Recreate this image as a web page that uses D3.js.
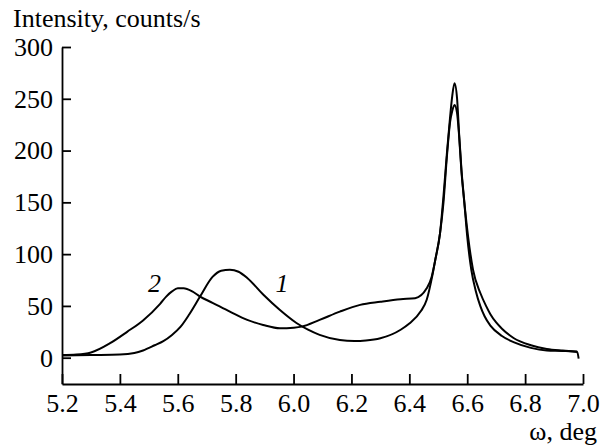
<!DOCTYPE html>
<html>
<head>
<meta charset="utf-8">
<script src="https://cdn.jsdelivr.net/npm/d3@7"></script>
<style>
  body { margin: 0; background: #fff; }
  .serif { font-family: "Liberation Serif", Times, serif; }
  .axis text { font-family: "Liberation Serif", Times, serif; font-size: 26px; fill: #000; }
  .axis path, .axis line { stroke: #000; stroke-width: 1.8; }
</style>
</head>
<body>
<div id="chart"></div>
<script>
// curve 1 (omega, intensity)
var omega1 = [5.2, 5.3, 5.4, 5.45, 5.48, 5.52, 5.55, 5.58, 5.61, 5.64, 5.677, 5.72, 5.75, 5.78, 5.81, 5.84, 5.895, 5.953, 6.01, 6.05, 6.09, 6.16, 6.21, 6.25, 6.30, 6.37, 6.40, 6.44, 6.46, 6.48, 6.49, 6.506, 6.518, 6.53, 6.541, 6.548, 6.556, 6.565, 6.572, 6.58, 6.59, 6.60, 6.614, 6.63, 6.645, 6.66, 6.68, 6.72, 6.76, 6.82, 6.875, 6.93, 6.98, 6.985];
var counts1 = [2, 2.5, 3, 4.5, 7, 12, 16, 22, 30, 42, 59, 78, 84, 85, 83, 77, 61, 46, 33.5, 27, 22, 17, 16, 16.5, 18.7, 27, 33, 45, 56, 80, 95, 120, 156, 198, 233, 252, 265, 250, 216, 182, 150, 117, 85, 64, 50, 40, 31, 21, 15, 9.5, 7, 6.5, 5.5, -1];

// curve 2
var omega2 = [5.2, 5.25, 5.3, 5.366, 5.425, 5.48, 5.539, 5.56, 5.58, 5.60, 5.62, 5.65, 5.677, 5.72, 5.78, 5.84, 5.895, 5.953, 6.0, 6.028, 6.09, 6.16, 6.23, 6.30, 6.37, 6.42, 6.46, 6.477, 6.49, 6.506, 6.518, 6.53, 6.541, 6.548, 6.556, 6.565, 6.572, 6.58, 6.59, 6.603, 6.62, 6.646, 6.665, 6.68, 6.70, 6.72, 6.76, 6.82, 6.875, 6.93, 6.98];
var counts2 = [2.5, 3, 5, 14, 25, 36, 52, 59, 64, 67, 67, 64, 59, 53, 44.5, 36.5, 31.6, 28.4, 29, 30, 36.5, 44.5, 51, 54, 56.5, 57.5, 67, 78, 95, 120, 150, 195, 228, 238, 244, 236, 214, 180, 150, 117, 85, 62, 50, 42, 34, 28, 19, 12, 8.5, 7, 6];

var xTicks = [5.2, 5.4, 5.6, 5.8, 6.0, 6.2, 6.4, 6.6, 6.8, 7.0];
var yTicks = [0, 50, 100, 150, 200, 250, 300];
var curveLabels = [{ name: "2", x: 5.52 }, { name: "1", x: 5.96 }];

var svgWidth = 607;
var svgHeight = 447;

var svg = d3.select("#chart")
    .append("svg")
    .attr("width", svgWidth)
    .attr("height", svgHeight)
    .style("display", "block");

var xScale = d3.scaleLinear().domain([5.2, 7.0]).range([62, 583]);
var yScale = d3.scaleLinear().domain([-25.4, 300]).range([384, 47]);

var xAxis = d3.axisBottom(xScale)
    .tickValues(xTicks)
    .tickFormat(d3.format(".1f"))
    .tickSizeInner(-10)
    .tickSizeOuter(0)
    .tickPadding(10);

var yAxis = d3.axisLeft(yScale)
    .tickValues(yTicks)
    .tickFormat(d3.format("d"))
    .tickSizeInner(-9)
    .tickSizeOuter(0)
    .tickPadding(9);

svg.append("g")
    .attr("class", "axis")
    .attr("transform", "translate(0,384)")
    .call(xAxis);

svg.append("g")
    .attr("class", "axis")
    .attr("transform", "translate(62,0)")
    .call(yAxis);

var line = d3.line()
    .x(d => xScale(d[0]))
    .y(d => yScale(d[1]))
    .curve(d3.curveMonotoneX);

var series = [d3.zip(omega1, counts1), d3.zip(omega2, counts2)];

svg.selectAll(".curve")
    .data(series)
    .enter()
    .append("path")
    .attr("class", "curve")
    .attr("d", line)
    .attr("fill", "none")
    .attr("stroke", "#000")
    .attr("stroke-width", 2)
    .attr("stroke-linejoin", "round");

svg.selectAll(".clabel")
    .data(curveLabels)
    .enter()
    .append("text")
    .attr("class", "clabel serif")
    .attr("x", d => xScale(d.x))
    .attr("y", 292)
    .attr("text-anchor", "middle")
    .style("font-style", "italic")
    .style("font-size", "26px")
    .text(d => d.name);

svg.append("text")
    .attr("class", "serif")
    .attr("x", 13)
    .attr("y", 27)
    .style("font-size", "26px")
    .text("Intensity, counts/s");

svg.append("text")
    .attr("class", "serif")
    .attr("x", 597)
    .attr("y", 440)
    .attr("text-anchor", "end")
    .style("font-size", "26px")
    .text("ω, deg");
</script>
</body>
</html>
